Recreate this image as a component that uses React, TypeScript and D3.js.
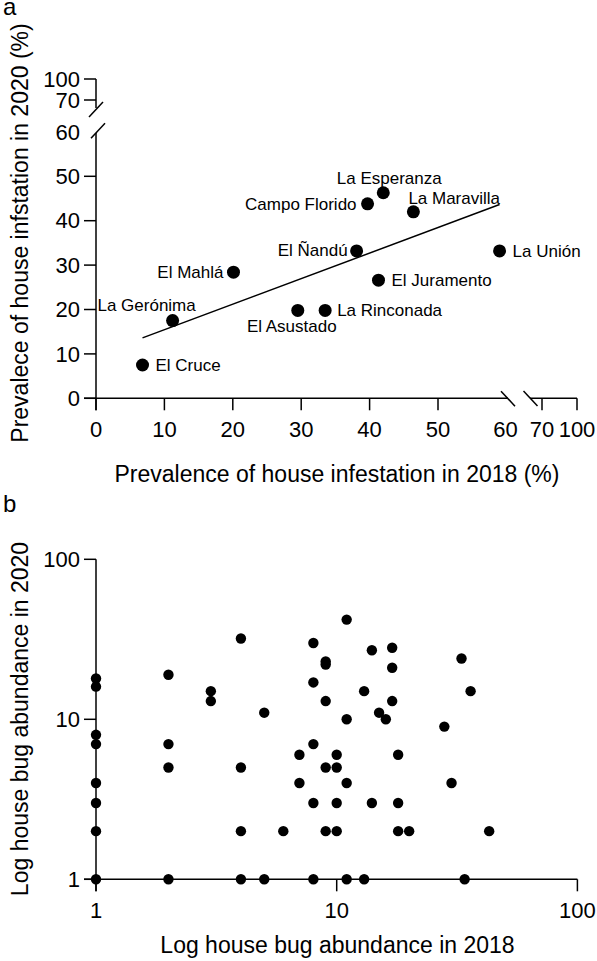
import React from "react";
import * as d3 from "d3";

// ---------- Panel a data ----------
const sites = [
  "El Cruce", "La Gerónima", "El Mahlá", "El Asustado", "La Rinconada",
  "El Ñandú", "Campo Florido", "La Esperanza", "La Maravilla", "La Unión", "El Juramento",
];
const prev2018 = [6.8, 11.2, 20.1, 29.5, 33.5, 38.1, 39.7, 42.0, 46.4, 59.0, 41.3];
const prev2020 = [7.5, 17.5, 28.4, 19.8, 19.8, 33.2, 43.8, 46.3, 42.0, 33.2, 26.6];
// label placement (anchor, dx, dy) per site
const labelAnchor = ["start", "middle", "end", "middle", "start", "end", "end", "middle", "start", "start", "start"];
const labelDx = [13, -26, -10, -6, 12, -9, -11, 6, -5, 13, 13];
const labelDy = [0, -16, 0, 16, 0, -1, 0, -15, -14, 0, 0];

const aXTicksLow = [0, 10, 20, 30, 40, 50];
const aXTicksHigh = [70, 100];
const aYTicksLow = [0, 10, 20, 30, 40, 50];
const aYTicksHigh = [70, 100];

// ---------- Panel b data ----------
const bugs2018 = [
  1, 1, 1, 1, 1, 1, 1, 1,
  2, 2, 2, 2,
  3, 3,
  4, 4, 4, 4,
  5, 5,
  6,
  7, 7,
  8, 8, 8, 8, 8,
  9, 9, 9, 9, 9,
  10, 10, 10, 10,
  11, 11, 11, 11,
  13, 13,
  14, 14,
  15,
  16,
  17, 17, 17,
  18, 18, 18,
  20,
  28,
  30,
  33,
  34,
  36,
  43,
];
const bugs2020 = [
  18, 16, 8, 7, 4, 3, 2, 1,
  19, 7, 5, 1,
  15, 13,
  32, 5, 2, 1,
  11, 1,
  2,
  6, 4,
  30, 17, 7, 3, 1,
  23, 22, 13, 5, 2,
  6, 5, 3, 2,
  42, 10, 4, 1,
  15, 1,
  27, 3,
  11,
  10,
  28, 21, 13,
  6, 3, 2,
  2,
  9,
  4,
  24,
  1,
  15,
  2,
];
const bTicks = [1, 10, 100];

const FONT = "'Liberation Sans', Arial, Helvetica, sans-serif";
const SW = 1.5;
const TICK = 12;

export default function App() {
  // Panel a scales
  const xLow = d3.scaleLinear().domain([0, 60]).range([96, 506.4]);
  const xHigh = d3.scaleLinear().domain([70, 100]).range([542, 577]);
  const yLow = d3.scaleLinear().domain([0, 60]).range([398.3, 131.9]);
  const yHigh = d3.scaleLinear().domain([70, 100]).range([100, 79]);

  // regression
  const n = prev2018.length;
  const mx = d3.mean(prev2018)!;
  const my = d3.mean(prev2020)!;
  let sxy = 0, sxx = 0;
  for (let i = 0; i < n; i++) {
    sxy += (prev2018[i] - mx) * (prev2020[i] - my);
    sxx += (prev2018[i] - mx) ** 2;
  }
  const slope = sxy / sxx;
  const icpt = my - slope * mx;
  const [x0, x1] = d3.extent(prev2018) as [number, number];
  const regLine = d3.line<number>().x((d) => xLow(d)).y((d) => yLow(icpt + slope * d))([x0, x1]);

  // Panel b scales
  const xb = d3.scaleLog().domain([1, 100]).range([96, 577.4]);
  const yb = d3.scaleLog().domain([1, 100]).range([879.3, 559.3]);

  const ax0 = xLow(0);
  const ay0 = yLow(0);
  const slash = (cx: number, cy: number, key: string, dir: number) => (
    <line key={key} x1={cx - 7 * dir} y1={cy - 7.5} x2={cx + 7 * dir} y2={cy + 7.5} stroke="#000" strokeWidth={SW} />
  );

  return (
    <svg width={597} height={961} style={{ position: "absolute", left: 0, top: 0, background: "#fff" }} fontFamily={FONT}>
      {/* ===== Panel a ===== */}
      <text x={3} y={15} fontSize={24}>a</text>
      {/* y axis */}
      <line x1={ax0} x2={ax0} y1={ay0 + TICK} y2={yLow(60) + 1} stroke="#000" strokeWidth={SW} />
      <line x1={ax0} x2={ax0} y1={yHigh(100)} y2={108} stroke="#000" strokeWidth={SW} />
      {slash(96, 109.5, "ys1", -1)}
      {slash(98, 130.8, "ys2", -1)}
      {aYTicksLow.map((t) => (
        <g key={"ayl" + t}>
          <line x1={ax0 - TICK} x2={ax0} y1={yLow(t)} y2={yLow(t)} stroke="#000" strokeWidth={SW} />
          <text x={ax0 - 16} y={yLow(t)} dy="0.35em" textAnchor="end" fontSize={22}>{t}</text>
        </g>
      ))}
      <text x={ax0 - 16} y={yLow(60)} dy="0.35em" textAnchor="end" fontSize={22}>60</text>
      {aYTicksHigh.map((t) => (
        <g key={"ayh" + t}>
          <line x1={ax0 - TICK} x2={ax0} y1={yHigh(t)} y2={yHigh(t)} stroke="#000" strokeWidth={SW} />
          <text x={ax0 - 16} y={yHigh(t)} dy="0.35em" textAnchor="end" fontSize={22}>{t}</text>
        </g>
      ))}
      {/* x axis */}
      <line x1={ax0 - TICK} x2={508} y1={ay0} y2={ay0} stroke="#000" strokeWidth={SW} />
      <line x1={530} x2={xHigh(100)} y1={ay0} y2={ay0} stroke="#000" strokeWidth={SW} />
      {slash(508, 398.7, "xs1", 1)}
      {slash(530.5, 398.5, "xs2", 1)}
      {aXTicksLow.map((t) => (
        <g key={"axl" + t}>
          <line x1={xLow(t)} x2={xLow(t)} y1={ay0} y2={ay0 + TICK} stroke="#000" strokeWidth={SW} />
          <text x={xLow(t)} y={437} textAnchor="middle" fontSize={22}>{t}</text>
        </g>
      ))}
      <text x={xLow(60) - 1} y={437} textAnchor="middle" fontSize={22}>60</text>
      {aXTicksHigh.map((t) => (
        <g key={"axh" + t}>
          <line x1={xHigh(t)} x2={xHigh(t)} y1={ay0} y2={ay0 + TICK} stroke="#000" strokeWidth={SW} />
          <text x={xHigh(t)} y={437} textAnchor="middle" fontSize={22}>{t}</text>
        </g>
      ))}
      <text x={337} y={481.5} textAnchor="middle" fontSize={23}>Prevalence of house infestation in 2018 (%)</text>
      <text transform="translate(28,233) rotate(-90)" textAnchor="middle" fontSize={23}>Prevalece of house infstation in 2020 (%)</text>
      {/* regression */}
      <path d={regLine!} fill="none" stroke="#000" strokeWidth={SW} />
      {/* points + labels */}
      {sites.map((s, i) => (
        <g key={s}>
          <circle cx={xLow(prev2018[i])} cy={yLow(prev2020[i])} r={6.5} fill="#000" />
          <text
            x={xLow(prev2018[i]) + labelDx[i]}
            y={yLow(prev2020[i]) + labelDy[i]}
            dy="0.35em"
            textAnchor={labelAnchor[i] as any}
            fontSize={17}
          >
            {s}
          </text>
        </g>
      ))}

      {/* ===== Panel b ===== */}
      <text x={3} y={511.5} fontSize={24}>b</text>
      <line x1={xb(1)} x2={xb(1)} y1={yb(100)} y2={yb(1) + TICK} stroke="#000" strokeWidth={SW} />
      <line x1={xb(1) - TICK} x2={xb(100)} y1={yb(1)} y2={yb(1)} stroke="#000" strokeWidth={SW} />
      {bTicks.map((t) => (
        <g key={"by" + t}>
          <line x1={xb(1) - TICK} x2={xb(1)} y1={yb(t)} y2={yb(t)} stroke="#000" strokeWidth={SW} />
          <text x={xb(1) - 16} y={yb(t)} dy="0.35em" textAnchor="end" fontSize={22}>{t}</text>
          <line x1={xb(t)} x2={xb(t)} y1={yb(1)} y2={yb(1) + TICK} stroke="#000" strokeWidth={SW} />
          <text x={xb(t)} y={918} textAnchor="middle" fontSize={22}>{t}</text>
        </g>
      ))}
      <text x={337.5} y={953} textAnchor="middle" fontSize={23}>Log house bug abundance in 2018</text>
      <text transform="translate(28,719) rotate(-90)" textAnchor="middle" fontSize={23}>Log house bug abundance in 2020</text>
      {bugs2018.map((v, i) => (
        <circle key={"b" + i} cx={xb(v)} cy={yb(bugs2020[i])} r={5.2} fill="#000" />
      ))}
    </svg>
  );
}
